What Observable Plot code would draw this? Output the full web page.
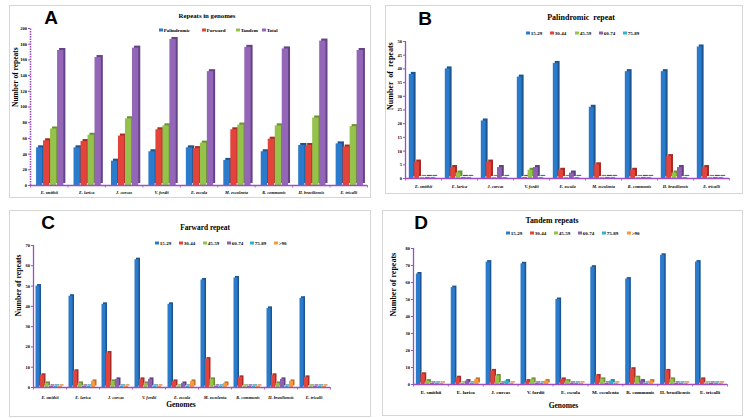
<!DOCTYPE html>
<html><head><meta charset="utf-8">
<script src="https://cdn.jsdelivr.net/npm/d3@7"></script>
<script src="https://cdn.jsdelivr.net/npm/@observablehq/plot@0.6"></script>
<style>
html,body{margin:0;padding:0;background:#fff;}
#root{position:relative;width:749px;height:418px;overflow:hidden;background:#fff;font-family:"Liberation Serif","Times New Roman",serif;}
.box{position:absolute;border:1px solid #d6d6d6;box-sizing:border-box;}
.letter{position:absolute;font-family:"Liberation Sans",Arial,sans-serif;font-weight:bold;font-size:19px;line-height:1;transform:translate(-50%,-50%);}
.title{position:absolute;font-weight:bold;white-space:nowrap;transform:translate(-50%,-50%);line-height:1;}
.lg{position:absolute;white-space:nowrap;font-weight:bold;font-size:5px;line-height:1;transform:translateY(-50%);display:flex;align-items:center;}
.lg .sw{display:inline-block;width:3.5px;height:3.5px;margin-right:1.2px;}
.plot{position:absolute;}
.plot svg{overflow:visible;}
.plot g[aria-label^="y-axis"] line,.plot g[aria-label^="y-axis"] path{stroke:#9a4fc2;}
.ital g[aria-label^="x-axis"] text{font-style:italic;}
.pA g[aria-label^="x-axis"] text{font-size:4.3px;}
.pB g[aria-label^="x-axis"] text{font-size:4.3px;}
.pC g[aria-label^="x-axis"] text{font-size:4.3px;}
.pD g[aria-label^="x-axis"] text{font-size:5px;}
</style>
</head><body>
<div id="root"></div>
<script>
// ---------- data ----------
const genomes = ["E. smithii","E. larica","J. curcas","V. fordii","E. escula","M. esculenta","R. communis","H. brasiliensis","E. tricalli"];

// Panel A: repeats in genomes
const seriesA = ["Palindromic","Forward","Tandem","Total"];
const palindromicA = [48,48,31,43,48,32,43,51,53];
const forwardA     = [57,56,63,71,47,71,59,51,49];
const tandemA      = [72,64,85,76,54,77,76,86,75];
const totalA       = [172,163,175,186,145,176,174,184,172];

// length classes
const classesB = ["15-29","30-44","45-59","60-74","75-89"];
const classesCD = ["15-29","30-44","45-59","60-74","75-89",">90"];

// Panel B: palindromic repeat
const palB_15_29 = [38,40,21,37,42,26,39,39,48];
const palB_30_44 = [6,4,6,0,3,5,3,8,4];
const palB_45_59 = [0,2,0,3,0,0,0,2,0];
const palB_60_74 = [0,0,4,4,2,0,0,4,0];
const palB_75_89 = [0,0,0,0,0,0,0,0,0];

// Panel C: forward repeat
const fwdC_15_29 = [50,45,41,63,41,53,54,39,44];
const fwdC_30_44 = [6,8,17,4,3,14,5,6,5];
const fwdC_45_59 = [2,2,3,2,0,4,0,2,0];
const fwdC_60_74 = [0,0,4,4,2,0,0,4,0];
const fwdC_75_89 = [0,0,0,0,0,0,0,0,0];
const fwdC_90    = [0,3,0,0,3,2,0,3,0];

// Panel D: tandem repeats
const tanD_15_29 = [65,57,72,71,50,69,62,76,72];
const tanD_30_44 = [6,4,8,2,3,5,9,8,3];
const tanD_45_59 = [2,0,5,3,2,3,4,3,0];
const tanD_60_74 = [0,2,0,0,0,0,2,0,0];
const tanD_75_89 = [0,0,2,0,0,2,0,0,0];
const tanD_90    = [0,3,0,2,0,0,2,0,0];

// ---------- styles ----------
const FRONT = ["#2b7bcc","#e2433a","#94c24a","#8c62b0","#2bb5cf","#f79a3e"];
const SIDE  = ["#1c548f","#a82c25","#6b8f33","#5f4080","#1d8396","#c46f20"];
const FRONT_A = ["#2b7bcc","#e2433a","#94c24a","#9466b8"];
const SIDE_A  = ["#1c548f","#a82c25","#6b8f33","#654386"];
const AXIS = "#9a4fc2";

const root = document.getElementById("root");
function add(cls, css, html){const d=document.createElement("div");d.className=cls;Object.assign(d.style,css);if(html!=null)d.innerHTML=html;root.appendChild(d);return d;}

function panel(cfg){
  const {left, top, width, height, ml, mr, mt, mb, series, values, front, side, yMax, yStep,
         stepPx, frontPx, depth, shiftPx, yTitle, yTitleDx, yTitleSize, xTitle, xTitleDy, xTitleDx,
         tickPad, cls, dashedY} = cfg;
  const rows = [];
  series.forEach((s, si) => values[si].forEach((v, gi) => rows.push({g: gi, s: si, v, name: s, genome: genomes[gi]})));
  const plotW = width - ml - mr, plotH = height - mt - mb;
  const band = plotW / genomes.length;
  const n = series.length;
  const groupW = (n - 1) * stepPx + frontPx + depth;
  const off = (band - groupW) / 2 + shiftPx;
  const minU = yMax * 1.1 / plotH;
  const x1 = d => d.g + (off + d.s * stepPx) / band;
  const x2 = d => d.g + (off + d.s * stepPx + frontPx) / band;
  const y2 = d => Math.max(d.v, minU);
  const marks = [
    Plot.rectY(rows, {x1, x2, y1: 0, y2, fill: d => side[d.s], dx: depth, dy: -depth}),
    Plot.rectY(rows, {x1, x2, y1: 0, y2, fill: d => front[d.s]}),
    Plot.ruleY([0], {stroke: AXIS, strokeWidth: 1.3}),
    Plot.ruleX([0], {y1: 0, y2: yMax, stroke: AXIS, strokeWidth: dashedY ? 1.6 : 1.3, strokeDasharray: dashedY ? "1.5,1" : null}),
    Plot.ruleX(d3.range(genomes.length + 1), {y1: 0, y2: 0, insetBottom: -2.5, stroke: AXIS, strokeWidth: 0.8}),
    Plot.text([yTitle], {frameAnchor: "left", rotate: -90, dx: yTitleDx, fontSize: yTitleSize, fontWeight: "bold"})
  ];
  if (xTitle) marks.push(Plot.text([xTitle], {frameAnchor: "bottom", dy: xTitleDy, dx: xTitleDx || 0, fontSize: 7.5, fontWeight: "bold"}));
  const svg = Plot.plot({
    width, height, marginLeft: ml, marginRight: mr, marginTop: mt, marginBottom: mb,
    style: {fontFamily: "'Liberation Serif','Times New Roman',serif", fontSize: "4.5px", fontWeight: "bold", background: "transparent", color: "#000"},
    color: {type: "identity"},
    x: {domain: [0, genomes.length], ticks: genomes.map((_, i) => i + 0.5), tickFormat: v => genomes[Math.floor(v)], tickSize: 0, tickPadding: tickPad, label: null},
    y: {domain: [0, yMax], ticks: d3.range(0, yMax + 1, yStep), tickSize: 2, tickPadding: 1.5, label: null},
    marks
  });
  const holder = add("plot " + cls, {left: left + "px", top: top + "px", width: width + "px", height: height + "px"});
  holder.appendChild(svg);
}

function legend(items, colors, xs, y){
  items.forEach((t, i) => add("lg", {left: xs[i] + "px", top: y + "px"}, `<span class="sw" style="background:${colors[i]}"></span>${t.replace(">", "&gt;")}`));
}

// ---------- boxes ----------
add("box", {left: "9px", top: "5px", width: "362px", height: "193px"});
add("box", {left: "385px", top: "5px", width: "358px", height: "189px"});
add("box", {left: "9px", top: "210px", width: "362px", height: "207px"});
add("box", {left: "382px", top: "210px", width: "361px", height: "206px"});

// ---------- Panel A ----------
add("letter", {left: "51px", top: "17px"}, "A");
add("title", {left: "207px", top: "16px", fontSize: "6.8px"}, "Repeats in genomes");
legend(seriesA, FRONT_A, [159, 202, 236, 262], 30);
panel({left: 0, top: 0, width: 375, height: 205, ml: 30, mr: 8, mt: 28, mb: 20,
  series: seriesA, values: [palindromicA, forwardA, tandemA, totalA], front: FRONT_A, side: SIDE_A,
  yMax: 200, yStep: 20, stepPx: 7, frontPx: 6.3, depth: 2, shiftPx: 2,
  yTitle: "Number of repeats", yTitleDx: -15, yTitleSize: 7.5, tickPad: 5.5, cls: "pA ital", dashedY: true});

// ---------- Panel B ----------
add("letter", {left: "425px", top: "18px"}, "B");
add("title", {left: "581px", top: "18px", fontSize: "8px"}, "Palindromic&nbsp; repeat");
legend(classesB, FRONT, [526, 550, 575, 599, 623], 33);
panel({left: 375, top: 0, width: 374, height: 205, ml: 30, mr: 20, mt: 41, mb: 27,
  series: classesB, values: [palB_15_29, palB_30_44, palB_45_59, palB_60_74, palB_75_89], front: FRONT, side: SIDE,
  yMax: 50, yStep: 5, stepPx: 5.4, frontPx: 4.8, depth: 2, shiftPx: 0,
  yTitle: "Number  of  repeats", yTitleDx: -15, yTitleSize: 8, tickPad: 6.5, cls: "pB ital"});

// ---------- Panel C ----------
add("letter", {left: "48px", top: "222px"}, "C");
add("title", {left: "205px", top: "228px", fontSize: "7.4px"}, "Farward repeat");
legend(classesCD, FRONT, [155, 179, 203, 227, 250, 274], 243);
panel({left: 0, top: 205, width: 375, height: 213, ml: 33, mr: 45, mt: 40, mb: 31,
  series: classesCD, values: [fwdC_15_29, fwdC_30_44, fwdC_45_59, fwdC_60_74, fwdC_75_89, fwdC_90], front: FRONT, side: SIDE,
  yMax: 70, yStep: 10, stepPx: 4.5, frontPx: 4, depth: 1.5, shiftPx: 0,
  yTitle: "Number of repeats", yTitleDx: -15, yTitleSize: 7.8, xTitle: "Genomes", xTitleDy: 19, xTitleDx: -1, tickPad: 8, cls: "pC ital"});

// ---------- Panel D ----------
add("letter", {left: "421px", top: "222px"}, "D");
add("title", {left: "552px", top: "221px", fontSize: "7.8px"}, "Tandem repeats");
legend(classesCD, FRONT, [506, 530, 554, 578, 602, 627], 233);
panel({left: 375, top: 205, width: 374, height: 213, ml: 38, mr: 22, mt: 43, mb: 34,
  series: classesCD, values: [tanD_15_29, tanD_30_44, tanD_45_59, tanD_60_74, tanD_75_89, tanD_90], front: FRONT, side: SIDE,
  yMax: 80, yStep: 10, stepPx: 4.7, frontPx: 4.2, depth: 1.5, shiftPx: 0,
  yTitle: "Number of repeats", yTitleDx: -20, yTitleSize: 8, xTitle: "Genomes", xTitleDy: 23, xTitleDx: -7, tickPad: 6, cls: "pD"});
</script>
</body></html>
